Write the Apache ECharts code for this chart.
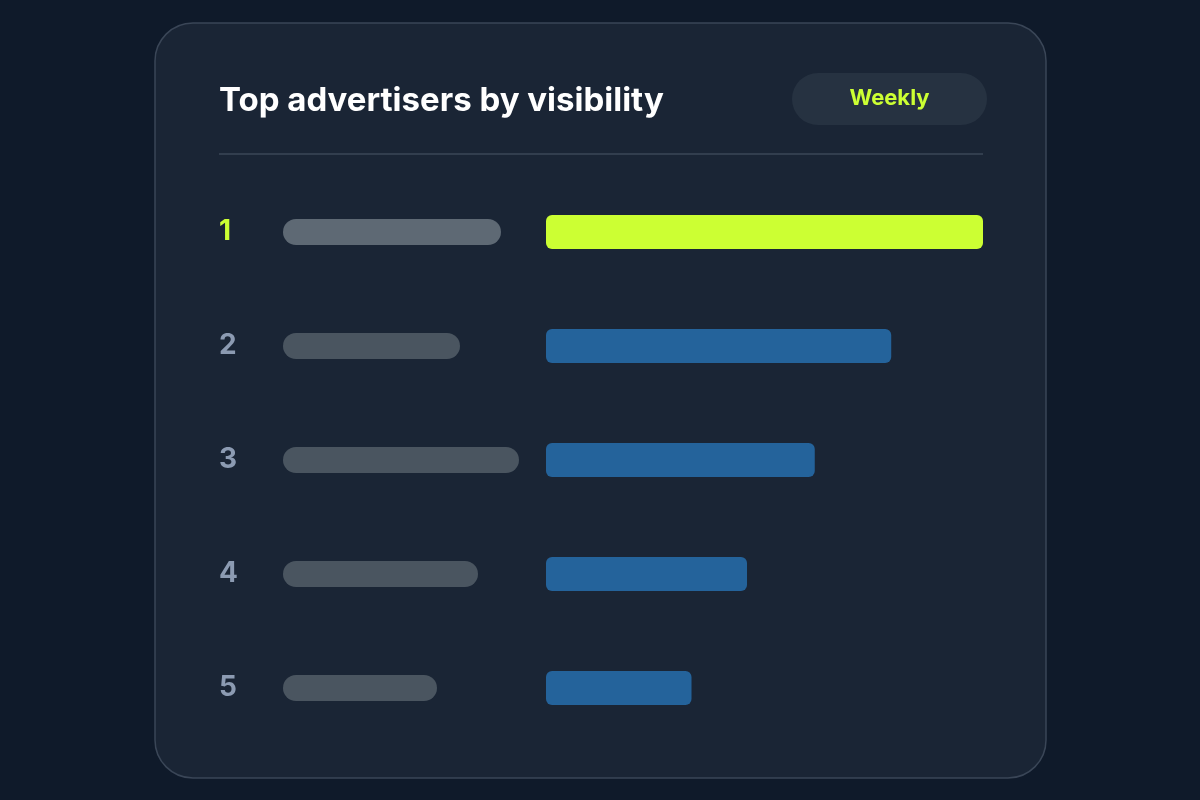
<!DOCTYPE html>
<html>
<head>
<meta charset="utf-8">
<script src="https://cdn.jsdelivr.net/npm/echarts@6/dist/echarts.min.js"></script>
<style>
html,body{margin:0;padding:0;background:#0f1a2a;}
#chart{width:1200px;height:800px;}
</style>
</head>
<body>
<div id="chart"></div>
<script>
// Data
const ranks = ['1', '2', '3', '4', '5'];
const visibility = [100, 79, 61.5, 46, 33.3];      // visibility score (relative)
const namePlaceholder = [218, 177, 236, 195, 154]; // redacted-name bar lengths
const titleText = 'Top advertisers by visibility';
const periodText = 'Weekly';

const FONT = 'Inter, "Open Sans", sans-serif';
const LIME = '#ccff33';
const BLUE = '#24639b';

const chart = echarts.init(document.getElementById('chart'), null, {renderer: 'canvas'});

const option = {
  backgroundColor: '#0f1a2a',
  animation: false,
  title: {
    text: titleText,
    left: 219 - 5,
    top: 82,
    padding: [0, 5],
    textStyle: {color: '#ffffff', fontFamily: FONT, fontWeight: 700, fontSize: 33, lineHeight: 38}
  },
  graphic: [
    {
      type: 'rect', z: -10, silent: true,
      shape: {x: 155, y: 23, width: 891, height: 755, r: 38},
      style: {fill: '#1a2535', stroke: '#3a4657', lineWidth: 1.5}
    },
    {
      type: 'line', z: -5, silent: true,
      shape: {x1: 219, y1: 154, x2: 983, y2: 154},
      style: {stroke: '#323e4e', lineWidth: 2}
    },
    {
      type: 'rect', z: -5, silent: true,
      shape: {x: 792, y: 73, width: 195, height: 52, r: 26},
      style: {fill: '#263241'}
    },
    {
      type: 'text', z: 5, silent: true,
      x: 889.5, y: 98,
      style: {text: periodText, fill: LIME, font: '700 22px ' + FONT, align: 'center', verticalAlign: 'middle'}
    }
  ],
  grid: [
    {left: 283, width: 240, top: 175, height: 570, containLabel: false},
    {left: 546, width: 437, top: 175, height: 570, containLabel: false}
  ],
  xAxis: [
    {gridIndex: 0, type: 'value', min: 0, max: 240, show: false},
    {gridIndex: 1, type: 'value', min: 0, max: 100, show: false}
  ],
  yAxis: [
    {
      gridIndex: 0, type: 'category', data: ranks, inverse: true,
      axisLine: {show: false}, axisTick: {show: false}, splitLine: {show: false},
      axisLabel: {
        show: true, align: 'left', margin: 64,
        formatter: function (v, i) { return i === 0 ? '{top|' + v + '}' : '{rest|' + v + '}'; },
        rich: {
          top: {color: LIME, fontFamily: FONT, fontWeight: 700, fontSize: 28},
          rest: {color: '#8c9bb2', fontFamily: FONT, fontWeight: 700, fontSize: 28}
        }
      }
    },
    {
      gridIndex: 1, type: 'category', data: ranks, inverse: true,
      axisLine: {show: false}, axisTick: {show: false}, splitLine: {show: false},
      axisLabel: {show: false}
    }
  ],
  series: [
    {
      type: 'bar', xAxisIndex: 0, yAxisIndex: 0,
      data: namePlaceholder.map((v, i) => ({value: v, itemStyle: {color: i === 0 ? '#5e6974' : '#4a5560'}})),
      barWidth: 26,
      itemStyle: {borderRadius: 13},
      silent: true
    },
    {
      type: 'bar', xAxisIndex: 1, yAxisIndex: 1,
      data: visibility.map((v, i) => ({value: v, itemStyle: {color: i === 0 ? LIME : BLUE}})),
      barWidth: 34,
      itemStyle: {borderRadius: 6},
      silent: true
    }
  ]
};

chart.setOption(option);
</script>
</body>
</html>
